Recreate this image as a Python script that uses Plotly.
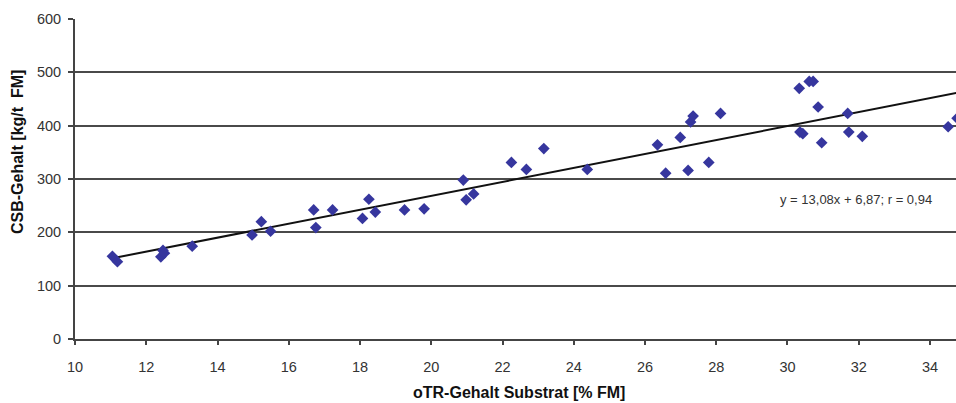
import plotly.graph_objects as go

# oTR-Gehalt Substrat [% FM]
otr = [11.05, 11.19, 12.41, 12.47, 12.51, 13.29, 14.97, 15.23, 15.49,
       16.70, 16.76, 17.23, 18.07, 18.25, 18.43, 19.25, 19.80,
       20.90, 20.98, 21.19, 22.25, 22.67, 23.16, 24.38,
       26.35, 26.58, 26.99, 27.21, 27.28, 27.35, 27.79, 28.12,
       30.33, 30.35, 30.43, 30.61, 30.72, 30.86, 30.96,
       31.69, 31.72, 32.10, 34.51, 34.76]
# CSB-Gehalt [kg/t FM]
csb = [155, 145, 154, 166, 161, 174, 195, 220, 202,
       242, 209, 242, 226, 262, 238, 242, 244,
       298, 261, 272, 331, 318, 357, 318,
       364, 311, 378, 316, 407, 418, 331, 423,
       470, 388, 385, 483, 483, 435, 368,
       423, 388, 380, 398, 414]

slope = 13.08
intercept = 6.87
fit_x = [11.05, 35.0]
fit_y = [slope * v + intercept for v in fit_x]

x_ticks = [10, 12, 14, 16, 18, 20, 22, 24, 26, 28, 30, 32, 34]
y_ticks = [0, 100, 200, 300, 400, 500, 600]

fig = go.Figure()
fig.add_trace(go.Scatter(x=fit_x, y=fit_y, mode="lines",
                         line=dict(color="#111111", width=2),
                         hoverinfo="skip", showlegend=False))
fig.add_trace(go.Scatter(x=otr, y=csb, mode="markers",
                         marker=dict(symbol="diamond", size=9, color="#36369e",
                                     line=dict(width=0)),
                         showlegend=False))

font_family = "Liberation Sans, Arial, sans-serif"
W, H = 956, 403
l, t, b = 75, 19, 64
fig.update_layout(
    width=W, height=H,
    margin=dict(l=l, r=0, t=t, b=b),
    paper_bgcolor="white", plot_bgcolor="white",
    font=dict(family=font_family, color="#333333", size=14),
    xaxis=dict(range=[10, 34.73], tickvals=x_ticks, showgrid=False,
               showline=True, linecolor="#444444", linewidth=2,
               ticks="outside", ticklen=4, tickcolor="#444444", tickwidth=1.5,
               ticklabelstandoff=10, zeroline=False,
               tickfont=dict(size=14.5, color="#333333")),
    yaxis=dict(range=[0, 600], tickvals=y_ticks, showgrid=True,
               gridcolor="#4a4a4a", gridwidth=1.5,
               showline=True, linecolor="#444444", linewidth=2,
               ticks="outside", ticklen=5, tickcolor="#444444", tickwidth=1.5,
               ticklabelstandoff=4, zeroline=False,
               tickfont=dict(size=14.5, color="#333333")),
)

pw, ph = W - l, H - t - b
def px(xp):
    return (xp - l) / pw
def py(yp):
    return (H - b - yp) / ph

common = dict(xref="paper", yref="paper", showarrow=False,
              xanchor="center", yanchor="middle")
fig.add_annotation(text="y = 13,08x + 6,87; r = 0,94", x=px(856), y=py(199),
                   font=dict(size=13, color="#333333"), **common)
fig.add_annotation(text="<b>CSB-Gehalt [kg/t  FM]</b>", x=px(17), y=py(152),
                   textangle=-90, font=dict(size=16, color="#111111"), **common)
fig.add_annotation(text="<b>oTR-Gehalt Substrat [% FM]</b>", x=px(519), y=py(392),
                   font=dict(size=16, color="#111111"), **common)

fig.write_html("out.html")
